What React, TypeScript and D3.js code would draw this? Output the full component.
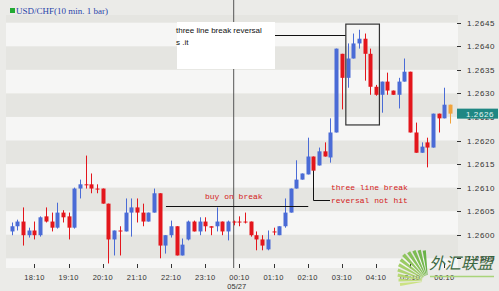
import React from "react";
import * as d3 from "d3";

const opens = [1.26007,1.26018,1.26028,1.25999,1.26009,1.25999,1.26039,1.26028,1.26015,1.26047,
1.26039,1.26015,1.26098,1.26107,1.26107,1.26098,1.26098,1.26066,1.2599,1.26009,
1.26007,1.26047,1.26058,1.26047,1.26028,1.26047,1.26088,1.25977,1.25999,1.26018,
1.25956,1.2599,1.26028,1.26007,1.26028,1.26018,1.26018,1.26028,1.26007,1.26028,
1.26028,1.26028,1.26028,1.25999,1.2599,1.25969,1.26007,1.25999,1.26018,1.26047,
1.26098,1.26117,1.26128,1.26166,1.26147,1.26177,1.26164,1.26217,1.26384,1.26333,
1.26374,1.26406,1.26416,1.26384,1.26314,1.26297,1.26325,1.26306,1.26297,1.26325,
1.26346,1.26217,1.26174,1.26196,1.26185,1.26257,1.26247,1.26276];

const highs = [1.26026,1.26032,1.26058,1.26015,1.26028,1.26039,1.26058,1.26047,1.26068,1.26052,
1.26047,1.261,1.26117,1.26168,1.2613,1.26107,1.26098,1.26066,1.26009,1.26018,
1.26077,1.26077,1.26077,1.26066,1.26047,1.26098,1.26088,1.25999,1.2603,1.26018,
1.25992,1.2603,1.2603,1.26037,1.26037,1.26018,1.26058,1.26028,1.2603,1.2603,
1.26039,1.26047,1.26028,1.26007,1.25999,1.26009,1.26015,1.26018,1.26077,1.26098,
1.26158,1.2613,1.26206,1.26166,1.26185,1.26196,1.26247,1.26395,1.26384,1.26406,
1.26427,1.26435,1.26427,1.26395,1.26318,1.26325,1.26344,1.26306,1.26333,1.26374,
1.26346,1.26238,1.26196,1.26206,1.26257,1.26257,1.26312,1.26276];

const lows = [1.25999,1.26009,1.25977,1.25994,1.2599,1.25996,1.26026,1.26007,1.26013,1.26026,
1.2599,1.26013,1.26077,1.26098,1.26088,1.26088,1.26066,1.25939,1.25956,1.25956,
1.26007,1.25996,1.26026,1.26018,1.26028,1.26047,1.2595,1.2596,1.25994,1.25956,
1.25956,1.25988,1.26007,1.25999,1.26007,1.25999,1.26007,1.25999,1.25988,1.2602,
1.26018,1.26024,1.25996,1.25967,1.25967,1.25967,1.25999,1.25999,1.26015,1.26047,
1.26098,1.26117,1.26128,1.26136,1.26147,1.26166,1.26153,1.26217,1.26266,1.26312,
1.26374,1.26395,1.26327,1.26297,1.26295,1.26259,1.26297,1.26297,1.26268,1.26325,
1.26217,1.26174,1.26174,1.26143,1.26185,1.26217,1.26247,1.26236];

const closes = [1.26018,1.26028,1.25999,1.26009,1.25999,1.26037,1.26028,1.26015,1.26047,1.26037,
1.26015,1.26098,1.26107,1.26105,1.26098,1.26096,1.26066,1.2599,1.26009,1.26007,
1.26047,1.26058,1.26047,1.26028,1.26047,1.26088,1.25977,1.25999,1.26018,1.25956,
1.25979,1.26028,1.26007,1.26028,1.26018,1.26015,1.26028,1.26007,1.26028,1.26026,
1.26026,1.26026,1.25999,1.2599,1.25977,1.2599,1.26005,1.26018,1.26047,1.26098,
1.26117,1.2613,1.26166,1.26136,1.26177,1.26166,1.26217,1.26395,1.26333,1.26374,
1.26406,1.26416,1.26384,1.26314,1.26297,1.26325,1.26306,1.26297,1.26325,1.26346,
1.26217,1.26174,1.26187,1.26185,1.26257,1.26247,1.26276,1.26257];

const timeTicks = ["18:10","19:10","20:10","21:10","22:10","23:10","00:10","01:10","02:10","03:10","04:10","05:10","06:10"];
const firstTickIndex = 4;
const barsPerTick = 6;
const midnightIndex = 39;
const dateLabel = "05/27";
const priceTicks = [1.2645,1.2640,1.2635,1.2630,1.2625,1.2620,1.2615,1.2610,1.2605,1.2600,1.2595];
const bandEdges = [1.2590,1.2595,1.2600,1.2605,1.2610,1.2615,1.2620,1.2625,1.2630,1.2635,1.2640,1.2645,1.2650];
const title = "USD/CHF(10 min.  1 bar)";

const W = 499, H = 291;
const PL = 6, PR = 458, PT = 15, PB = 268;

export default function App() {
  const n = opens.length;
  const x = d3.scaleLinear().domain([0, n - 1]).range([11.7, 450]);
  const y = d3.scaleLinear().domain([1.2595, 1.2645]).range([258.3, 22.7]);
  const bw = 4;
  const blue = "#4a6bd6", red = "#e3161c", orange = "#f2a33a";
  const last = n - 1;

  const rays = 11;
  const fanColor = d3.scaleLinear<string>().domain([0, rays - 1]).range(["#c9e27a", "#5fae3a"]);
  const fan = d3.range(rays).map((k) => {
    const a0 = (-100 + k * 9) * Math.PI / 180;
    return d3.arc()({ innerRadius: 6, outerRadius: 36 - Math.abs(k - 6) * 1.3, startAngle: a0, endAngle: a0 + 6 * Math.PI / 180 } as any) as string;
  });

  return (
    <svg width={W} height={H} style={{ position: "fixed", left: 0, top: 0, background: "#ebebe8" }}>
      <rect x={0} y={0} width={W} height={H} fill="#ebebe8" />
      <defs>
        <clipPath id="plot"><rect x={PL} y={PT} width={PR - PL} height={PB - PT} /></clipPath>
      </defs>
      <g clipPath="url(#plot)">
        <rect x={PL} y={PT} width={PR - PL} height={PB - PT} fill="#e5e5e1" />
        {bandEdges.slice(0, -1).map((p, i) =>
          i % 2 === 0 ? (
            <rect key={i} x={PL} y={y(bandEdges[i + 1])} width={PR - PL} height={y(p) - y(bandEdges[i + 1])} fill="#f6f6f5" />
          ) : null
        )}
        <line x1={x(midnightIndex)} x2={x(midnightIndex)} y1={PT} y2={PB} stroke="#555" strokeWidth={1} />
        {opens.map((o, i) => {
          const c = closes[i];
          const col = i === last ? orange : c >= o ? blue : red;
          const top = y(Math.max(o, c));
          const h = Math.max(1, Math.abs(y(o) - y(c)));
          const cx = Math.round(x(i)) + 0.5;
          return (
            <g key={i}>
              <line x1={cx} x2={cx} y1={y(highs[i])} y2={y(lows[i])} stroke={col} strokeWidth={1} />
              <rect x={cx - bw / 2} y={top} width={bw} height={h} fill={col} />
            </g>
          );
        })}
      </g>
      <line x1={x(midnightIndex)} x2={x(midnightIndex)} y1={0} y2={PT} stroke="#555" strokeWidth={1} />

      {/* right axis */}
      {priceTicks.map((p) => (
        <g key={p}>
          <line x1={457} x2={461} y1={Math.round(y(p)) + 0.5} y2={Math.round(y(p)) + 0.5} stroke="#333" />
          <text x={467} y={y(p) + 3} fontSize={8} fontFamily="Liberation Sans, Arial" letterSpacing={0.6} fill="#333">{d3.format(".4f")(p)}</text>
        </g>
      ))}
      <rect x={457} y={y(closes[last]) - 5} width={41} height={10} fill="#1f8783" />
      <text x={466} y={y(closes[last]) + 3} fontSize={8} fontFamily="Liberation Sans, Arial" letterSpacing={0.6} fill="#e8f6f4">{d3.format(".4f")(closes[last])}</text>

      {/* bottom axis */}
      {timeTicks.map((t, k) => {
        const xi = x(firstTickIndex + k * barsPerTick);
        return (
          <g key={t}>
            <line x1={Math.round(xi) + 0.5} x2={Math.round(xi) + 0.5} y1={264} y2={268} stroke="#333" />
            <text x={xi} y={280} fontSize={7.5} fontFamily="Liberation Sans, Arial" textAnchor="middle" letterSpacing={0.3} fill="#333">{t}</text>
          </g>
        );
      })}
      <text x={x(midnightIndex) + 3} y={289} fontSize={7.5} fontFamily="Liberation Sans, Arial" textAnchor="middle" fill="#333">{dateLabel}</text>

      {/* header */}
      <rect x={10} y={8} width={5} height={5} fill="#22aa33" />
      <text x={16} y={14} fontSize={9} fontFamily="Liberation Serif, serif" fill="#2a44a8">{title}</text>

      {/* annotation: boxed note */}
      <rect x={177} y={22} width={98} height={47} fill="#ffffff" />
      <text x={176} y={33} fontSize={8} fontFamily="Liberation Sans, Arial" fill="#111">three line break reversal</text>
      <text x={176} y={45} fontSize={8} fontFamily="Liberation Sans, Arial" fill="#111">s .it</text>
      <line x1={275} x2={x(58.7)} y1={35.5} y2={35.5} stroke="#111" />
      <rect x={x(58.7)} y={y(1.26447)} width={x(64.6) - x(58.7)} height={y(1.26233) - y(1.26447)} fill="none" stroke="#333" strokeWidth={1.2} />

      {/* annotation: buy on break */}
      <line x1={x(27.1)} x2={x(52.1)} y1={Math.round(y(1.2606)) + 0.5} y2={Math.round(y(1.2606)) + 0.5} stroke="#111" />
      <text x={205} y={199} fontSize={8} fontFamily="Liberation Mono, monospace" fill="#d42020">buy on break</text>

      {/* annotation: reversal not hit */}
      <path d={`M${Math.round(x(53)) + 0.5},${y(closes[53])} V200.5 H330`} fill="none" stroke="#111" />
      <text x={331} y={190} fontSize={8} fontFamily="Liberation Mono, monospace" fill="#d42020">three line break</text>
      <text x={331} y={203} fontSize={8} fontFamily="Liberation Mono, monospace" fill="#d42020">reversal not hit</text>

      {/* watermark */}
      <g transform="translate(428,281)" opacity={0.92}>
        {fan.map((d, k) => (
          <path key={k} d={d} fill={fanColor(k)} />
        ))}
      </g>
      <line x1={430} x2={494} y1={276.5} y2={276.5} stroke="#a9d47a" strokeWidth={1.5} />
      <text x={429} y={269} fontSize={16} fontStyle="italic" fontFamily="Noto Sans CJK SC" fill="#2f5e34" opacity={0.92}>外汇联盟</text>
    </svg>
  );
}
